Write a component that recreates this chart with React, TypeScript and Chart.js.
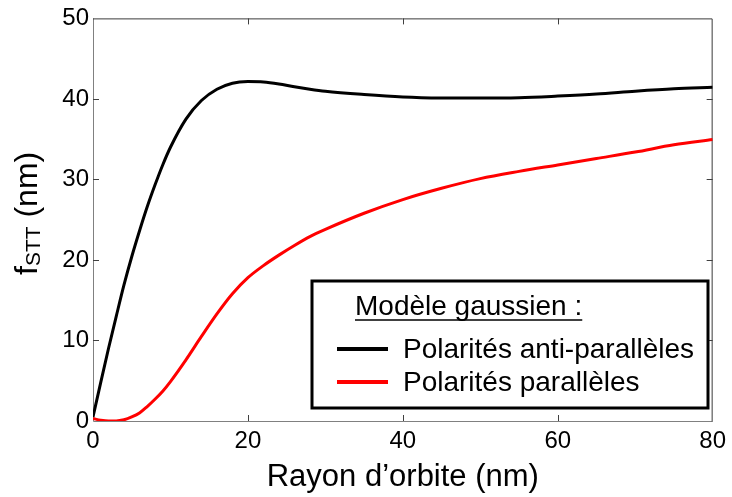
import React, { useEffect, useRef } from "react";
import { Chart, registerables } from "chart.js";

Chart.register(...registerables);

const radius = [0, 1, 2, 3, 4, 5, 6, 7, 8, 9, 10, 12, 14, 16, 18, 20, 22, 24, 26, 28, 30, 35, 40, 45, 50, 55, 60, 65, 70, 75, 80];
const antiParallel = [0.5, 4.8, 9.0, 13.0, 16.9, 20.4, 23.6, 26.6, 29.3, 31.8, 34.0, 37.5, 39.8, 41.2, 41.95, 42.15, 42.1, 41.85, 41.5, 41.2, 40.95, 40.55, 40.25, 40.12, 40.1, 40.15, 40.35, 40.6, 40.95, 41.25, 41.45];
const parallel = [0.3, 0.1, 0.0, 0.0, 0.15, 0.5, 1.0, 1.8, 2.7, 3.7, 4.9, 7.6, 10.5, 13.3, 15.8, 17.8, 19.3, 20.6, 21.8, 22.9, 23.8, 25.8, 27.5, 28.9, 30.1, 31.0, 31.8, 32.6, 33.4, 34.3, 34.95];

const seriesNames = ["Polarités anti-parallèles", "Polarités parallèles"];
const seriesColors = ["#000000", "#ff0000"];
const legendTitle = "Modèle gaussien :";
const xTicks = [0, 20, 40, 60, 80];
const yTicks = [0, 10, 20, 30, 40, 50];
const xTitle = "Rayon d’orbite (nm)";
const yTitleMain = "f";
const yTitleSub = "STT";
const yTitleRest = " (nm)";

const FONT = "'Liberation Sans', Arial, Helvetica, sans-serif";

const framePlugin = {
  id: "frame",
  beforeDatasetsDraw(chart: any) {
    const { ctx, chartArea, scales } = chart;
    const { left, right, top, bottom } = chartArea;
    const x = scales.x;
    const y = scales.y;
    ctx.save();
    ctx.lineWidth = 1;
    const tl = 6;
    ctx.strokeStyle = "#808080";
    ctx.beginPath();
    ctx.moveTo(left + 0.5, top);
    ctx.lineTo(left + 0.5, bottom + 0.5);
    ctx.lineTo(right, bottom + 0.5);
    ctx.stroke();
    ctx.strokeStyle = "#3a3a3a";
    ctx.beginPath();
    ctx.moveTo(left, top + 0.5);
    ctx.lineTo(right - 0.5, top + 0.5);
    ctx.lineTo(right - 0.5, bottom + 0.5);
    ctx.stroke();
    ctx.strokeStyle = "#404040";
    ctx.beginPath();
    xTicks.forEach((v) => {
      const px = Math.round(x.getPixelForValue(v)) + 0.5;
      if (v === xTicks[0] || v === xTicks[xTicks.length - 1]) return;
      ctx.moveTo(px, bottom);
      ctx.lineTo(px, bottom - tl);
      ctx.moveTo(px, top);
      ctx.lineTo(px, top + tl);
    });
    yTicks.forEach((v) => {
      const py = Math.round(y.getPixelForValue(v)) + 0.5;
      if (v === yTicks[0] || v === yTicks[yTicks.length - 1]) return;
      ctx.moveTo(left, py);
      ctx.lineTo(left + tl, py);
      ctx.moveTo(right, py);
      ctx.lineTo(right - tl, py);
    });
    ctx.stroke();
    ctx.restore();
  },
  afterDraw(chart: any) {
    const { ctx, chartArea } = chart;
    ctx.save();
    // x title
    ctx.fillStyle = "#000";
    ctx.font = `31px ${FONT}`;
    ctx.textAlign = "center";
    ctx.textBaseline = "alphabetic";
    ctx.fillText(xTitle, (chartArea.left + chartArea.right) / 2, 486);

    // y title (rotated, with subscript)
    ctx.save();
    ctx.translate(37, 275);
    ctx.rotate(-Math.PI / 2);
    ctx.textAlign = "left";
    ctx.font = `32px ${FONT}`;
    let cx = 0;
    ctx.fillText(yTitleMain, cx, 0);
    cx += ctx.measureText(yTitleMain).width;
    ctx.font = `21px ${FONT}`;
    ctx.fillText(yTitleSub, cx, 3);
    cx += ctx.measureText(yTitleSub).width;
    ctx.font = `32px ${FONT}`;
    ctx.fillText(yTitleRest, cx, 0);
    ctx.restore();

    // legend box
    const bx = 312, by = 281, bw = 396, bh = 127;
    ctx.fillStyle = "#fff";
    ctx.fillRect(bx, by, bw, bh);
    ctx.lineWidth = 3;
    ctx.strokeStyle = "#000";
    ctx.strokeRect(bx, by, bw, bh);

    ctx.fillStyle = "#000";
    ctx.font = `28px ${FONT}`;
    ctx.textAlign = "left";
    ctx.textBaseline = "alphabetic";
    ctx.fillText(legendTitle, 355, 315);
    const tw = ctx.measureText(legendTitle).width;
    ctx.lineWidth = 1.5;
    ctx.beginPath();
    ctx.moveTo(355, 320);
    ctx.lineTo(355 + tw, 320);
    ctx.stroke();

    const rows = [349, 382];
    seriesNames.forEach((name, i) => {
      ctx.strokeStyle = seriesColors[i];
      ctx.lineWidth = 4;
      ctx.beginPath();
      ctx.moveTo(337, rows[i]);
      ctx.lineTo(388, rows[i]);
      ctx.stroke();
      ctx.fillStyle = "#000";
      ctx.textBaseline = "middle";
      ctx.fillText(name, 403, rows[i] + 1);
    });
    ctx.restore();
  },
};

export default function App() {
  const ref = useRef<HTMLCanvasElement | null>(null);
  useEffect(() => {
    document.body.style.margin = "0";
    const canvas = ref.current!;
    const chart = new Chart(canvas, {
      type: "line",
      data: {
        datasets: [
          {
            label: seriesNames[0],
            data: radius.map((r, i) => ({ x: r, y: antiParallel[i] })),
            borderColor: seriesColors[0],
            borderWidth: 3,
            pointRadius: 0,
            cubicInterpolationMode: "monotone",
            fill: false,
          },
          {
            label: seriesNames[1],
            data: radius.map((r, i) => ({ x: r, y: parallel[i] })),
            borderColor: seriesColors[1],
            borderWidth: 3,
            pointRadius: 0,
            cubicInterpolationMode: "monotone",
            fill: false,
          },
        ],
      },
      options: {
        animation: false,
        responsive: false,
        maintainAspectRatio: false,
        layout: { padding: { top: 14, right: 14, left: 0, bottom: 0 } },
        plugins: { legend: { display: false }, tooltip: { enabled: false } },
        scales: {
          x: {
            type: "linear",
            min: 0,
            max: 80,
            afterFit: (s: any) => {
              s.height = 76;
            },
            afterBuildTicks: (s: any) => {
              s.ticks = xTicks.map((v) => ({ value: v }));
            },
            grid: { display: false, drawTicks: false },
            border: { display: false },
            ticks: {
              color: "#000",
              font: { size: 24, family: FONT },
              padding: 6,
              maxRotation: 0,
              autoSkip: false,
            },
          },
          y: {
            type: "linear",
            min: 0,
            max: 50,
            afterFit: (s: any) => {
              s.width = 93;
            },
            afterBuildTicks: (s: any) => {
              s.ticks = yTicks.map((v) => ({ value: v }));
            },
            grid: { display: false, drawTicks: false },
            border: { display: false },
            ticks: {
              color: "#000",
              font: { size: 24, family: FONT },
              padding: 4,
              autoSkip: false,
            },
          },
        },
      },
      plugins: [framePlugin],
    });
    return () => chart.destroy();
  }, []);
  return (
    <canvas
      ref={ref}
      width={732}
      height={497}
      style={{ position: "absolute", left: 0, top: 0, width: 732, height: 497 }}
    />
  );
}
